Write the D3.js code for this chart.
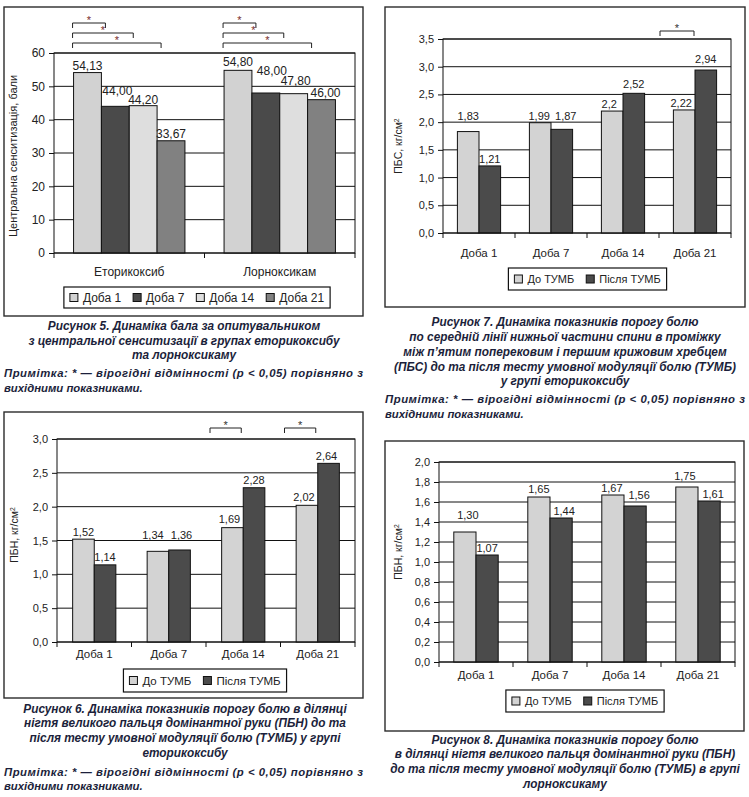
<!DOCTYPE html>
<html>
<head>
<meta charset="utf-8">
<script src="https://cdn.jsdelivr.net/npm/d3@7"></script>
<style>
  body { margin: 0; background: #fff; }
  svg { display: block; }
</style>
</head>
<body>
<svg id="page" width="749" height="797"></svg>
<script>
// Дані рисунка 5
const fig5Groups = ["Еторикоксиб", "Лорноксикам"];
const fig5Days = ["Доба 1", "Доба 7", "Доба 14", "Доба 21"];
const fig5Etori = [54.13, 44.00, 44.20, 33.67];
const fig5Lorno = [54.80, 48.00, 47.80, 46.00];
const fig5Ticks = [0, 10, 20, 30, 40, 50, 60];

// Дні і серії для рисунків 6-8
const days = ["Доба 1", "Доба 7", "Доба 14", "Доба 21"];
const tumb = ["До ТУМБ", "Після ТУМБ"];

const fig7Before = [1.83, 1.99, 2.2, 2.22];
const fig7After  = [1.21, 1.87, 2.52, 2.94];
const fig7Ticks  = [0, 0.5, 1.0, 1.5, 2.0, 2.5, 3.0, 3.5];
const fig7Sig    = ["Доба 21"];

const fig6Before = [1.52, 1.34, 1.69, 2.02];
const fig6After  = [1.14, 1.36, 2.28, 2.64];
const fig6Ticks  = [0, 0.5, 1.0, 1.5, 2.0, 2.5, 3.0];
const fig6Sig    = ["Доба 14", "Доба 21"];

const fig8Before = [1.30, 1.65, 1.67, 1.75];
const fig8After  = [1.07, 1.44, 1.56, 1.61];
const fig8Ticks  = [0, 0.2, 0.4, 0.6, 0.8, 1.0, 1.2, 1.4, 1.6, 1.8, 2.0];

// Зсув підписів над стовпчиками (як в оригіналі, щоб не налазили)
const fig5Lift  = [[0, 8, -1, 0], [1, 15, 6, 0]];
const fig5Shift = [[0, 2, 0, 0], [0, 6, 2, 4]];
const fig7Lift  = [[9, 0], [0, 6], [0, 2], [0, 4]];
const fig7Shift = [[0, 0], [-1, 4], [-3, 0], [-3, 0]];
const fig6Lift  = [[0, 1], [9, 8], [2, 1], [1, 0]];
const fig6Shift = [[0, 0], [-5, 2], [-3, 0], [-3, -2]];
const fig8Lift  = [[10, 0], [1, 0], [0, 4], [4, 0]];
const fig8Shift = [[3, 0], [0, 3], [-1, 4], [-2, 4]];

const svg = d3.select("#page");
const comma = s => s.replace(".", ",");
const fmt2 = v => comma(d3.format(".2f")(v));
const fmt1 = v => comma(d3.format(".1f")(v));
const fmtRaw = v => comma(String(v));

const FONT = "'Liberation Sans', Arial, sans-serif";
const CAPFONT = "'Liberation Sans Narrow', 'Liberation Sans', Arial, sans-serif";

function drawPanel(o) {
  const g = svg.append("g");

  // рамка
  g.append("rect")
    .attr("x", o.frame[0]).attr("y", o.frame[1])
    .attr("width", o.frame[2] - o.frame[0]).attr("height", o.frame[3] - o.frame[1])
    .attr("fill", "none").attr("stroke", "#2b2b2b").attr("stroke-width", 1.4);

  const x = d3.scaleBand().domain(o.categories).range([o.plot[0], o.plot[1]]);
  const y = d3.scaleLinear().domain([0, d3.max(o.ticks)]).range([o.plot[3], o.plot[2]]);
  const pad = x.bandwidth() * o.pad;
  const inner = d3.scaleBand().domain(o.series).range([pad, x.bandwidth() - pad]);

  // сітка
  g.append("g").selectAll("line").data(o.ticks).join("line")
    .attr("x1", o.plot[0]).attr("x2", o.plot[1])
    .attr("y1", d => y(d)).attr("y2", d => y(d))
    .attr("stroke", "#111").attr("stroke-width", 1);

  // стовпчики
  const cat = g.append("g").selectAll("g").data(o.categories).join("g")
    .attr("transform", c => `translate(${x(c)},0)`);
  const cells = (c, ci) => o.series.map((s, si) => ({ s, si, ci, v: o.values[ci][si] }));

  cat.selectAll("rect").data(cells).join("rect")
    .attr("x", d => inner(d.s)).attr("width", inner.bandwidth())
    .attr("y", d => y(d.v)).attr("height", d => y(0) - y(d.v))
    .attr("fill", d => o.colors[d.si])
    .attr("stroke", "#111").attr("stroke-width", 1);

  cat.selectAll("text.val").data(cells).join("text").attr("class", "val")
    .attr("x", d => inner(d.s) + inner.bandwidth() / 2 + o.shift[d.ci][d.si])
    .attr("y", d => y(d.v) - 3 - o.lift[d.ci][d.si])
    .attr("text-anchor", "middle")
    .attr("font-family", FONT).attr("font-size", o.valSize)
    .attr("fill", "#222")
    .text(d => o.valFmt(d.v));

  // рамка області побудови
  g.append("rect")
    .attr("x", o.plot[0]).attr("y", o.plot[2])
    .attr("width", o.plot[1] - o.plot[0]).attr("height", o.plot[3] - o.plot[2])
    .attr("fill", "none").attr("stroke", "#111").attr("stroke-width", 1);

  // вісь Y
  const ay = g.append("g")
    .attr("transform", `translate(${o.plot[0]},0)`)
    .call(d3.axisLeft(y).tickValues(o.ticks).tickSize(5).tickPadding(4).tickFormat(o.tickFmt));
  ay.select(".domain").remove();
  ay.selectAll("line").attr("stroke", "#111");
  ay.selectAll("text").attr("font-family", FONT).attr("font-size", o.tickSize).attr("fill", "#222");

  // вісь X: мітки на межах категорій
  const edges = o.categories.map(c => x(c)).concat([o.plot[1]]);
  g.append("g").selectAll("line").data(edges).join("line")
    .attr("x1", d => d).attr("x2", d => d)
    .attr("y1", o.plot[3]).attr("y2", o.plot[3] + 5)
    .attr("stroke", "#111");
  g.append("g").selectAll("text").data(o.categories).join("text")
    .attr("x", c => x(c) + x.bandwidth() / 2)
    .attr("y", o.catY)
    .attr("dy", "0.35em")
    .attr("text-anchor", "middle")
    .attr("font-family", FONT).attr("font-size", o.catSize).attr("fill", "#222")
    .text(c => c);

  // назва осі Y
  const yt = g.append("text")
    .attr("transform", `translate(${o.yTitle[0]},${o.yTitle[1]}) rotate(-90)`)
    .attr("text-anchor", "middle").attr("dy", "0.35em")
    .attr("font-family", FONT).attr("font-size", o.yTitleSize).attr("fill", "#222");
  yt.append("tspan").text(o.yTitleText);
  if (o.yTitleSup) {
    yt.append("tspan").attr("dy", "-0.45em").attr("font-size", o.yTitleSize * 0.65).text(o.yTitleSup);
  }

  // значущі відмінності
  o.brackets.forEach(b => {
    const x1 = b.x1(x, inner), x2 = b.x2(x, inner);
    g.append("path")
      .attr("d", `M${x1},${b.y + 5}V${b.y}H${x2}V${b.y + 5}`)
      .attr("fill", "none").attr("stroke", "#222").attr("stroke-width", 1);
    g.append("text")
      .attr("x", (x1 + x2) / 2).attr("y", b.y + 1)
      .attr("text-anchor", "middle")
      .attr("font-family", FONT).attr("font-size", 11)
      .attr("fill", o.starColor)
      .text("*");
  });

  // легенда
  const lg = g.append("g");
  const items = lg.selectAll("g").data(o.series).join("g");
  items.append("rect")
    .attr("width", 8).attr("height", 8)
    .attr("y", -4)
    .attr("fill", (d, i) => o.colors[i])
    .attr("stroke", "#111");
  items.append("text")
    .attr("x", 13).attr("dy", "0.35em")
    .attr("font-family", FONT).attr("font-size", o.legSize).attr("fill", "#222")
    .text(d => d);
  let cx = 0;
  const offs = [];
  items.each(function () {
    offs.push(cx);
    const w = d3.select(this).select("text").node().getComputedTextLength();
    cx += 13 + w + o.legGap;
  });
  const total = cx - o.legGap;
  const boxW = total + 12;
  const left = o.legend[0] - boxW / 2;
  const midY = (o.legend[1] + o.legend[2]) / 2;
  items.attr("transform", (d, i) => `translate(${left + 6 + offs[i]},${midY})`);
  lg.insert("rect", ":first-child")
    .attr("x", left).attr("y", o.legend[1])
    .attr("width", boxW).attr("height", o.legend[2] - o.legend[1])
    .attr("fill", "#fff").attr("stroke", "#111").attr("stroke-width", 1.2);
}

// Рисунок 5
drawPanel({
  frame: [4, 7, 363, 316],
  plot: [54, 355, 53, 253],
  categories: fig5Groups,
  series: fig5Days,
  values: [fig5Etori, fig5Lorno],
  colors: ["#d2d2d2", "#4a4a4a", "#dedede", "#818181"],
  ticks: fig5Ticks, tickFmt: d => d, tickSize: 12,
  valFmt: fmt2, valSize: 12, lift: fig5Lift, shift: fig5Shift,
  pad: 0.13,
  catY: 272, catSize: 12,
  yTitle: [13, 156], yTitleText: "Центральна сенситизація, бали", yTitleSize: 11,
  legend: [197, 287, 308], legSize: 12, legGap: 12,
  starColor: "#7a2d2d",
  brackets: fig5Groups.flatMap(c => [1, 2, 3].map(k => ({
    y: 13 + k * 10,
    x1: (x, inner) => x(c) + inner(fig5Days[0]) - 1,
    x2: (x, inner) => x(c) + inner(fig5Days[k]) + 4
  })))
});

// Рисунок 7
drawPanel({
  frame: [385, 7, 745, 307],
  plot: [443, 731, 39, 233],
  categories: days,
  series: tumb,
  values: d3.zip(fig7Before, fig7After),
  colors: ["#d3d3d3", "#4b4b4b"],
  ticks: fig7Ticks, tickFmt: fmt1, tickSize: 11,
  valFmt: fmtRaw, valSize: 11, lift: fig7Lift, shift: fig7Shift,
  pad: 0.2,
  catY: 253, catSize: 11.5,
  yTitle: [398, 146], yTitleText: "ПБС, кг/см", yTitleSup: "2", yTitleSize: 10.5,
  legend: [587.5, 268, 290], legSize: 11, legGap: 12,
  starColor: "#333",
  brackets: fig7Sig.map(c => ({
    y: 31,
    x1: (x) => x(c) + 1,
    x2: (x) => x(c) + x.bandwidth() / 2 - 1
  }))
});

// Рисунок 6
drawPanel({
  frame: [4, 412, 363, 698],
  plot: [57, 355, 439, 642],
  categories: days,
  series: tumb,
  values: d3.zip(fig6Before, fig6After),
  colors: ["#d3d3d3", "#4b4b4b"],
  ticks: fig6Ticks, tickFmt: fmt1, tickSize: 11,
  valFmt: fmt2, valSize: 11, lift: fig6Lift, shift: fig6Shift,
  pad: 0.21,
  catY: 654, catSize: 11.5,
  yTitle: [14, 535], yTitleText: "ПБН, кг/см", yTitleSup: "2", yTitleSize: 10.5,
  legend: [205, 669, 692], legSize: 11.5, legGap: 12,
  starColor: "#333",
  brackets: fig6Sig.map(c => ({
    y: 428,
    x1: (x) => x(c) + 4,
    x2: (x) => x(c) + x.bandwidth() / 2 - 2
  }))
});

// Рисунок 8
drawPanel({
  frame: [385, 441, 744, 731],
  plot: [439, 735, 462, 662],
  categories: days,
  series: tumb,
  values: d3.zip(fig8Before, fig8After),
  colors: ["#d3d3d3", "#4b4b4b"],
  ticks: fig8Ticks, tickFmt: fmt1, tickSize: 11,
  valFmt: fmt2, valSize: 11, lift: fig8Lift, shift: fig8Shift,
  pad: 0.2,
  catY: 675, catSize: 11.5,
  yTitle: [398, 552], yTitleText: "ПБН, кг/см", yTitleSup: "2", yTitleSize: 10.5,
  legend: [585, 690, 712], legSize: 11, legGap: 12,
  starColor: "#333",
  brackets: []
});

// Підписи рисунків
const captions = [
  { cx: 184, ys: [330, 345, 359], lines: [
    "Рисунок 5. Динаміка бала за опитувальником",
    "з центральної сенситизації в групах еторикоксибу",
    "та лорноксикаму"] },
  { cx: 565, ys: [326, 341, 356, 371, 385], lines: [
    "Рисунок 7. Динаміка показників порогу болю",
    "по середній лінії нижньої частини спини в проміжку",
    "між п’ятим поперековим і першим крижовим хребцем",
    "(ПБС) до та після тесту умовної модуляції болю (ТУМБ)",
    "у групі еторикоксибу"] },
  { cx: 185, ys: [713, 727, 742, 757], lines: [
    "Рисунок 6. Динаміка показників порогу болю в ділянці",
    "нігтя великого пальця домінантної руки (ПБН) до та",
    "після тесту умовної модуляції болю (ТУМБ) у групі",
    "еторикоксибу"] },
  { cx: 565, ys: [744, 758, 773, 788], lines: [
    "Рисунок 8. Динаміка показників порогу болю",
    "в ділянці нігтя великого пальця домінантної руки (ПБН)",
    "до та після тесту умовної модуляції болю (ТУМБ) в групі",
    "лорноксикаму"] }
];
const notes = [
  { x: 4, w: 359, ys: [377, 392] },
  { x: 385, w: 360, ys: [403, 418] },
  { x: 4, w: 359, ys: [776, 790] }
];
const noteLines = ["Примітка: * — вірогідні відмінності (p < 0,05) порівняно з", "вихідними показниками."];

// стиснення шрифту по ширині першого рядка рис. 7 (≈267 px в оригіналі)
const CAPSIZE = 12;
const probe = svg.append("text")
  .attr("font-family", CAPFONT).attr("font-weight", 700).attr("font-style", "italic")
  .attr("font-size", CAPSIZE).text(captions[1].lines[0]);
const squeeze = 267 / probe.node().getComputedTextLength();
probe.remove();

const capColor = "#1c1f3b";
captions.forEach(c => {
  const g = svg.append("g")
    .attr("transform", `translate(${c.cx},0) scale(${squeeze},1)`);
  g.selectAll("text").data(c.lines).join("text")
    .attr("x", 0).attr("y", (d, i) => c.ys[i])
    .attr("text-anchor", "middle")
    .attr("font-family", CAPFONT).attr("font-weight", 700).attr("font-style", "italic")
    .attr("font-size", CAPSIZE).attr("fill", capColor)
    .text(d => d);
});
notes.forEach(n => {
  const g = svg.append("g")
    .attr("transform", `translate(${n.x},0) scale(${squeeze},1)`);
  g.selectAll("text").data(noteLines).join("text")
    .attr("x", 0).attr("y", (d, i) => n.ys[i])
    .attr("font-family", CAPFONT).attr("font-weight", 700).attr("font-style", "italic")
    .attr("font-size", 11.5).attr("fill", capColor)
    .attr("textLength", (d, i) => i === 0 ? n.w / squeeze : null)
    .attr("lengthAdjust", "spacing")
    .text(d => d);
});
</script>
</body>
</html>
